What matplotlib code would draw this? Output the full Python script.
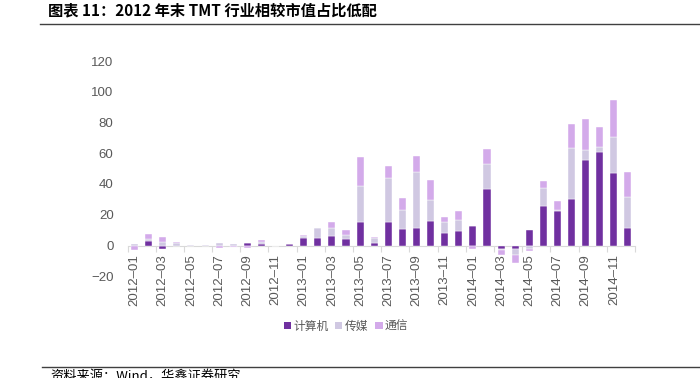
import matplotlib
matplotlib.use("Agg")
import matplotlib.pyplot as plt
import numpy as np
from matplotlib.patches import Patch
from matplotlib.lines import Line2D

months = [f"{y}–{m:02d}" for y in (2012, 2013, 2014) for m in range(1, 13)]

computer = [0, 3, -2, 0, 0, 0, 0, 0, 1.5, 1, 0, 1,
            4.8, 4.8, 6.5, 4.5, 15.6, 1.5, 15, 11, 11.7, 16, 8.4, 9.7,
            12.5, 36.6, -2.5, -2.4, 10.2, 26, 22.3, 30.3, 55.8, 61, 47, 11.2]
media = [1, 1.5, 2.5, 1.5, 0.5, 0.3, 1.5, 1, 0, 1, 0, 0,
         1.2, 6.7, 5, 2.4, 23.2, 3.3, 29, 12.4, 36.3, 13.7, 7.2, 7.2,
         0.3, 16.5, -0.5, -3.5, -2.2, 11.7, 0.9, 33.3, 6.5, 3, 23.6, 20.6]
telecom = [-3, 3.3, 3, 0.5, 0, 0, -1.5, -1, -1.5, 1.5, 0, 0,
           0.9, 0, 3.6, 3.3, 18.8, 0.8, 7.5, 7.8, 10.2, 13.2, 3.2, 5.4,
           -2, 9.9, -3.3, -5.8, -1.7, 4.1, 6, 15.6, 20, 13, 24, 15.8]

series = [("计算机", computer, "#7030A0"),
          ("传媒", media, "#D0C8E2"),
          ("通信", telecom, "#D3AAEA")]

plt.rcParams['font.family'] = ['Liberation Sans', 'Noto Sans CJK SC', 'DejaVu Sans']

fig = plt.figure(figsize=(7, 3.78), dpi=100)
ax = fig.add_axes([127.5/700, 1-276.25/378, (635-127.5)/700, (276.25-61)/378])

for s in ['left', 'right', 'top']:
    ax.spines[s].set_visible(False)
ax.spines['bottom'].set_position(('data', 0))
ax.spines['bottom'].set_color('#D9D9D9')
ax.spines['bottom'].set_linewidth(0.8)

x = np.arange(len(months))
pos_b = np.zeros(len(months))
neg_b = np.zeros(len(months))
for name, vals, col in series:
    v = np.array(vals, dtype=float)
    bottoms = np.where(v >= 0, pos_b, neg_b)
    ax.bar(x, v, 0.5, bottom=bottoms, color=col, edgecolor='white', linewidth=0.3, zorder=3)
    pos_b = pos_b + np.where(v >= 0, v, 0)
    neg_b = neg_b + np.where(v < 0, v, 0)

ax.set_xlim(-0.5, len(months) - 0.5)
ax.set_ylim(-20, 120)
ax.set_yticks(np.arange(-20, 121, 20))
ax.tick_params(axis='y', length=0, pad=10, labelsize=9.5, labelcolor='#595959')

ax.set_xticks(x[::2])
ax.set_xticklabels(months[::2], rotation=90, fontsize=9.5, color='#595959', va='top')
ax.set_xticks(np.arange(-0.5, len(months), 2), minor=True)
ax.tick_params(axis='x', which='major', length=0, pad=6)
ax.tick_params(axis='x', which='minor', length=4, color='#D9D9D9', width=0.8)

handles = [Patch(facecolor=c, edgecolor='none') for _, _, c in series]
fig.legend(handles, [n for n, _, _ in series], loc='center',
           bbox_to_anchor=(346/700, 1-326/378), ncol=3, frameon=False,
           prop={'family': ['Noto Sans CJK SC'], 'size': 8.5},
           labelcolor='#595959', handlelength=0.6, handleheight=0.6,
           handletextpad=0.2, columnspacing=0.6)

fig.text(48/700, 1-10/378, "图表 11：2012 年末 TMT 行业相较市值占比低配",
         fontsize=11, fontweight='bold', va='center', ha='left',
         family=['Noto Sans CJK SC', 'DejaVu Sans'], color='black')
fig.add_artist(Line2D([40/700, 1], [1-24/378, 1-24/378], color='#404040', linewidth=1.0))
fig.add_artist(Line2D([42/700, 1], [1-367/378, 1-367/378], color='#404040', linewidth=1.0))
fig.text(50/700, 1-371/378, "资料来源：Wind，华鑫证券研究", fontsize=9.5, va='top', ha='left',
         family=['Noto Sans CJK SC', 'DejaVu Sans'], color='black')

fig.savefig("out.png", dpi=100)
